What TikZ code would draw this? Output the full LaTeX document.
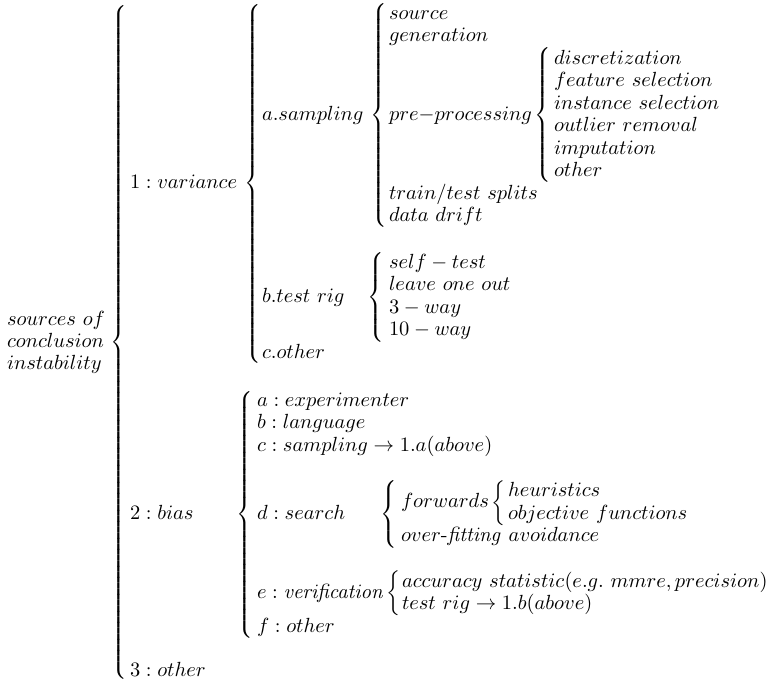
\documentclass[11pt,tikz,border=0pt]{standalone}
\usepackage{amsmath}
\newcommand\bracefor[1]{${\nulldelimiterspace=0pt\left\{\vcenter{\hbox{\rule{0pt}{#1pt}}}\right.}$}
\tikzset{
  lbl/.style={anchor=mid west, inner sep=0pt, outer sep=0pt},
  brc/.style={anchor=center, inner sep=0pt, outer sep=0pt, font=\fontsize{10}{12}\selectfont},
}
\begin{document}
\begin{tikzpicture}[x=0.5348pt, y=-0.5348pt]
\useasboundingbox (0,0) rectangle (766,685);
% root
\node[lbl] (s1) at (7,320.7) {$sources\ of$};
\node[lbl] (s2) at (7,343.1) {$conclusion$};
\node[lbl] (s3) at (7,365.5) {$instability$};
\node[brc] (b0) at (120,342.4) {\bracefor{362}};
% 1: variance
\node[lbl] (v1) at (130,184) {$1: variance$};
\node[brc] (bv) at (253.5,183.6) {\bracefor{192}};
\node[lbl] (asamp) at (262,116.5) {$a.sampling$};
\node[brc] (bsamp) at (380,115.3) {\bracefor{120}};
\node[lbl] (src) at (389,15) {$source$};
\node[lbl] (gen) at (389,37.4) {$generation$};
\node[lbl] (pre) at (389,116.5) {$pre{-}processing$};
\node[brc] (bpre) at (544,115.3) {\bracefor{72}};
\node[lbl] (disc) at (554,59.9) {$discretization$};
\node[lbl] (feat) at (554,82.3) {$feature\ selection$};
\node[lbl] (inst) at (554,104.8) {$instance\ selection$};
\node[lbl] (outl) at (554,127.2) {$outlier\ removal$};
\node[lbl] (imp) at (554,149.7) {$imputation$};
\node[lbl] (oth1) at (554,172.1) {$other$};
\node[lbl] (tts) at (389,195) {$train/test\ splits$};
\node[lbl] (dd) at (389,217.4) {$data\ drift$};
\node[lbl] (btr) at (262,298) {$b.test\ rig$};
\node[brc] (bbtr) at (377,297.5) {\bracefor{48}};
\node[lbl] (self) at (389,264) {$self-test$};
\node[lbl] (loo) at (389,286.4) {$leave\ one\ out$};
\node[lbl] (w3) at (389,308.9) {$3-way$};
\node[lbl] (w10) at (389,331.3) {$10-way$};
\node[lbl] (coth) at (262,354) {$c.other$};
% 2: bias
\node[lbl] (bias) at (130,515) {$2: bias$};
\node[brc] (bb) at (246,514.5) {\bracefor{132}};
\node[lbl] (aexp) at (257,402) {$a: experimenter$};
\node[lbl] (blang) at (257,424.4) {$b: language$};
\node[lbl] (csamp) at (257,446.9) {$c: sampling\rightarrow 1.a(above)$};
\node[lbl] (dsearch) at (257,515) {$d: search$};
\node[brc] (bsearch) at (390,514.3) {\bracefor{36}};
\node[lbl] (fwd) at (401,503.5) {$forwards$};
\node[brc] (bfwd) at (500,503) {\bracefor{24}};
\node[lbl] (heur) at (508,492.3) {$heuristics$};
\node[lbl] (obj) at (508,514.7) {$objective\ functions$};
\node[lbl] (ovf) at (401,537.2) {$over\mbox{-}\mathit{fitting}\ avoidance$};
\node[lbl] (ever) at (257,594) {$e: \mathit{verification}$};
\node[brc] (bver) at (394.5,593.3) {\bracefor{24}};
\node[lbl] (acc) at (402,582.8) {$accuracy\ statistic(e.g.\ mmre, precision)$};
\node[lbl] (trig) at (402,605.2) {$test\ rig\rightarrow 1.b(above)$};
\node[lbl] (foth) at (257,627.7) {$f: other$};
% 3: other
\node[lbl] (three) at (130,672.5) {$3: other$};
\end{tikzpicture}
\end{document}
